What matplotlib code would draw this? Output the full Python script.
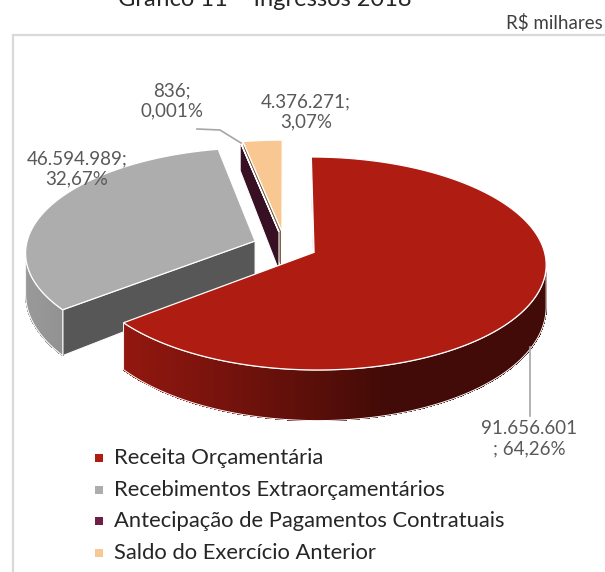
import numpy as np
import matplotlib.pyplot as plt
from matplotlib.colors import to_rgb
from matplotlib.patches import Polygon

plt.rcParams["font.family"] = ["Lato", "DejaVu Sans"]

title = "Gráfico 11 – Ingressos 2018"
unit = "R$ milhares"

categories = [
    "Receita Orçamentária",
    "Recebimentos Extraorçamentários",
    "Antecipação de Pagamentos Contratuais",
    "Saldo do Exercício Anterior",
]
values = [91656601, 46594989, 836, 4376271]
percent_text = ["64,26%", "32,67%", "0,001%", "3,07%"]
slice_colors = ["#ae1c12", "#adadad", "#6e1f47", "#f9c791"]

# label anchors (pixels) and how each label breaks its two parts
label_pos = [(529, 439), (77, 169), (172, 101), (306, 112)]
label_sep = ["\n; ", ";\n", ";\n", ";\n"]

# pie geometry in pixel space
CX, CY = 285, 246
RX, RY = 229, 104
PERSP = 0.104
EXPLODE = 0.14
CAM_V = -1.0 / PERSP


def depth(v):
    return 40 - 10 * v


def project(u, v, bottom=False):
    k = 1.0 + PERSP * v
    y = CY - RY * v / k
    if bottom:
        y += depth(v)
    return (CX + RX * u / k, y)


def wall_shade(t):
    return 0.38 + 0.5 * max(0.0, np.cos(t - np.radians(255)))


fig = plt.figure(figsize=(6.05, 5.72), dpi=100)
ax = fig.add_axes([0, 0, 1, 1])
ax.set_xlim(0, 605)
ax.set_ylim(572, 0)
ax.axis("off")

# chart frame
ax.plot([13, 13, 606], [573, 35, 35], color="#d9d9d9", lw=1.6,
        solid_joinstyle="miter")

total = float(sum(values))
spans = [2 * np.pi * v / total for v in values]
starts = np.concatenate([[0.0], np.cumsum(spans)[:-1]])


def draw_slice(i):
    t0, t1 = starts[i], starts[i] + spans[i]
    mid = 0.5 * (t0 + t1)
    ox, oy = EXPLODE * np.sin(mid), EXPLODE * np.cos(mid)
    base = np.array(to_rgb(slice_colors[i]))
    n = max(2, int(np.degrees(t1 - t0) * 2) + 2)
    th = np.linspace(t0, t1, n)
    ru, rv = ox + np.sin(th), oy + np.cos(th)

    # flat side faces along the two radii
    for t, sign in ((t0, -1.0), (t1, 1.0)):
        nu, nv = sign * np.cos(t), -sign * np.sin(t)
        if nu * (0 - ox) + nv * (CAM_V - oy) > 0:
            pu, pv = ox + np.sin(t), oy + np.cos(t)
            quad = [project(ox, oy), project(pu, pv),
                    project(pu, pv, True), project(ox, oy, True)]
            ax.add_patch(Polygon(quad, closed=True, fc=base * 0.5,
                                 ec="white", lw=0.7, zorder=2))

    # curved outer wall
    vis = []
    for k in range(n - 1):
        tm = 0.5 * (th[k] + th[k + 1])
        pu, pv = ox + np.sin(tm), oy + np.cos(tm)
        vis.append(np.sin(tm) * (0 - pu) + np.cos(tm) * (CAM_V - pv) > 0)
    k = 0
    while k < n - 1:
        if not vis[k]:
            k += 1
            continue
        j = k
        while j < n - 1 and vis[j]:
            j += 1
        for m in range(k, j):
            tm = 0.5 * (th[m] + th[m + 1])
            c = base * wall_shade(tm)
            quad = [project(ru[m], rv[m]), project(ru[m + 1], rv[m + 1]),
                    project(ru[m + 1], rv[m + 1], True),
                    project(ru[m], rv[m], True)]
            ax.add_patch(Polygon(quad, closed=True, fc=c, ec=c, lw=0.5,
                                 antialiased=False, zorder=2))
        top = [project(ru[m], rv[m]) for m in range(k, j + 1)]
        bot = [project(ru[m], rv[m], True) for m in range(j, k - 1, -1)]
        ax.add_patch(Polygon(top + bot, closed=True, fill=False,
                             ec="white", lw=0.7, zorder=2))
        k = j

    # top face
    face = [project(ox, oy)] + [project(u, v) for u, v in zip(ru, rv)]
    ax.add_patch(Polygon(face, closed=True, fc=base, ec="white", lw=0.9,
                         zorder=2))


# paint from the back of the pie to the front
order = sorted(range(len(values)),
               key=lambda i: -np.cos(starts[i] + spans[i] / 2))
for i in order:
    draw_slice(i)

# data labels
for i, (x, y) in enumerate(label_pos):
    txt = f"{values[i]:,}".replace(",", ".") + label_sep[i] + percent_text[i]
    ax.text(x, y, txt, ha="center", va="center", fontsize=13.5,
            color="#595959", linespacing=1.25, zorder=4)

# leader lines
ax.plot([530, 530], [347, 416], color="#a6a6a6", lw=1.2, zorder=3)
ax.plot([197, 220, 241], [129, 130, 143], color="#a6a6a6", lw=1.2, zorder=3)

# legend
for i, name in enumerate(categories):
    y = 458 + i * 31.7
    ax.scatter([98.5], [y], marker="s", s=30, color=slice_colors[i],
               linewidths=0, zorder=4)
    ax.text(114, y, name, ha="left", va="center", fontsize=15.8,
            color="#262626", zorder=4)

ax.text(265, 6, title, ha="center", va="baseline", fontsize=17,
        color="#262626")
ax.text(603, 29, unit, ha="right", va="baseline", fontsize=13.5,
        color="#404040")

fig.savefig("out.png", dpi=100)
